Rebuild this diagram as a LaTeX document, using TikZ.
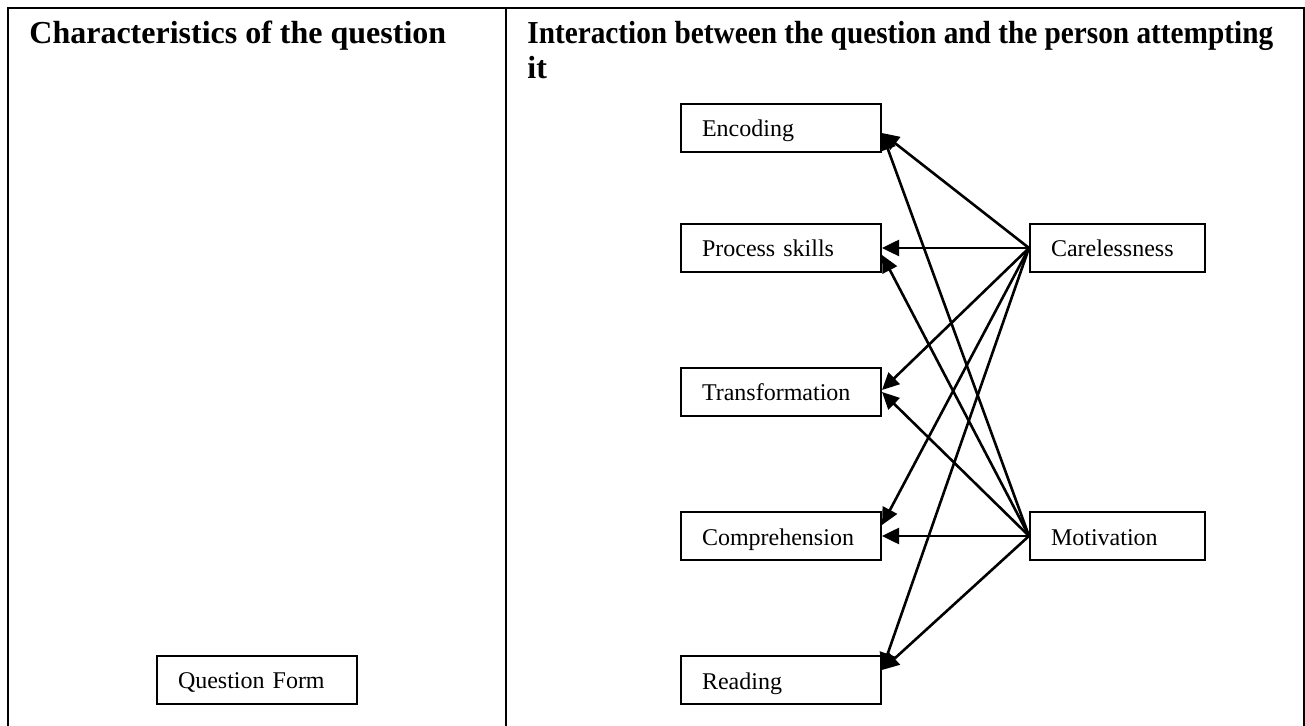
\documentclass[tikz,border=0pt]{standalone}
\usepackage{fontspec}
\usepackage{graphicx}
\setmainfont{Liberation Serif}
\usetikzlibrary{arrows.meta}
\begin{document}
\begin{tikzpicture}[x=0.5pt,y=-0.5pt,
  frame/.style={line width=1.1pt},
  lbox/.style={draw,line width=1pt,minimum height=24pt,minimum width=100pt,
    text width=79pt,inner xsep=10.5pt,align=left,text height=10pt,text depth=1pt,
    font=\fontsize{12}{14}\selectfont},
  rbox/.style={lbox,minimum width=87.5pt,text width=66.5pt},
  head/.style={anchor=base west,inner sep=0pt,font=\fontsize{16}{17.5}\selectfont\bfseries},
  link/.style={line width=1.3pt,-{Triangle[length=8.5pt,width=8pt]}}]
\useasboundingbox (0,0) rectangle (1305,726);
% table frame
\draw[frame] (8,726) -- (8,8) -- (1304,8) -- (1304,726);
\draw[frame] (506,8) -- (506,726);
% headers
\node[head] (h1) at (29,44) {Characteristics of the question};
\node[head] (h2) at (527,44) {\scalebox{0.915}[1]{Interaction between the question and the person attempting}};
\node[head] (h3) at (527,79) {it};
% boxes
\node[lbox] (qf) at (257,679.5) {Question Form};
\node[lbox] (enc) at (781,128) {Encoding};
\node[lbox] (proc) at (781,248) {Process skills};
\node[lbox] (trans) at (781,392) {Transformation};
\node[lbox] (comp) at (781,536) {Comprehension};
\node[lbox] (read) at (781,680) {Reading};
\node[rbox] (care) at (1117.5,248) {Carelessness};
\node[rbox] (mot) at (1117.5,536) {Motivation};
% connectors
\draw[link] (care.west) -- ([yshift=-2.5pt]enc.east);
\draw[link] (care.west) -- (proc.east);
\draw[link] (care.west) -- ([yshift=1pt]trans.east);
\draw[link] (care.west) -- ([yshift=5.5pt]comp.east);
\draw[link] (care.west) -- ([yshift=5pt]read.east);
\draw[link] (mot.west) -- ([yshift=-2.5pt]enc.east);
\draw[link] (mot.west) -- ([yshift=-3.5pt]proc.east);
\draw[link] (mot.west) -- (trans.east);
\draw[link] (mot.west) -- (comp.east);
\draw[link] (mot.west) -- ([yshift=5pt]read.east);
\end{tikzpicture}
\end{document}
